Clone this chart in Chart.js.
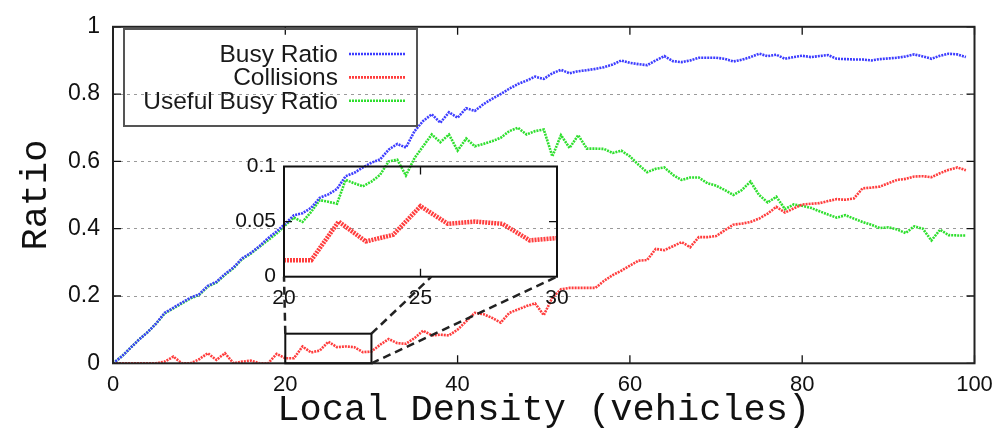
<!DOCTYPE html>
<html><head><meta charset="utf-8">
<script src="https://cdn.jsdelivr.net/npm/chart.js@4.4.0/dist/chart.umd.min.js"></script>
<style>
html,body{margin:0;padding:0;background:#fff;overflow:hidden}
#wrap{position:relative;width:1007px;height:434px}
canvas{position:absolute;left:0;top:0}
</style></head><body>
<div id="wrap"><canvas id="main" width="1007" height="434"></canvas><canvas id="inset" width="1007" height="434"></canvas></div>
<script>
// ---- data ----
const density = [0,1,2,3,4,5,6,7,8,9,10,11,12,13,14,15,16,17,18,19,20,21,22,23,24,25,26,27,28,29,30,31,32,33,34,35,36,37,38,39,40,41,42,43,44,45,46,47,48,49,50,51,52,53,54,55,56,57,58,59,60,61,62,63,64,65,66,67,68,69,70,71,72,73,74,75,76,77,78,79,80,81,82,83,84,85,86,87,88,89,90,91,92,93,94,95,96,97,98,99];
const busyRatio = [0.000,0.020,0.045,0.070,0.092,0.118,0.150,0.165,0.180,0.195,
  0.205,0.230,0.242,0.265,0.285,0.312,0.328,0.348,0.372,0.392,
  0.415,0.440,0.446,0.462,0.492,0.502,0.518,0.556,0.566,0.582,
  0.596,0.606,0.635,0.652,0.641,0.690,0.720,0.740,0.715,0.746,
  0.730,0.758,0.750,0.770,0.786,0.800,0.816,0.830,0.840,0.852,
  0.845,0.862,0.872,0.862,0.868,0.871,0.875,0.880,0.888,0.900,
  0.893,0.889,0.886,0.900,0.913,0.898,0.895,0.900,0.908,0.908,
  0.908,0.905,0.897,0.902,0.910,0.920,0.913,0.917,0.905,0.910,
  0.914,0.910,0.913,0.916,0.905,0.904,0.903,0.903,0.900,0.904,
  0.906,0.908,0.912,0.918,0.912,0.905,0.914,0.920,0.918,0.910];
const collisions = [0.000,0.000,0.000,0.000,0.000,0.000,0.005,0.020,0.000,0.000,
  0.012,0.030,0.010,0.030,0.000,0.005,0.008,0.000,0.000,0.028,
  0.015,0.015,0.050,0.032,0.038,0.064,0.048,0.050,0.048,0.033,
  0.035,0.055,0.072,0.060,0.058,0.075,0.097,0.083,0.085,0.083,
  0.100,0.125,0.150,0.146,0.135,0.121,0.150,0.160,0.170,0.178,
  0.143,0.195,0.220,0.224,0.224,0.224,0.224,0.245,0.262,0.275,
  0.290,0.305,0.307,0.340,0.336,0.348,0.360,0.345,0.375,0.375,
  0.378,0.395,0.412,0.415,0.420,0.430,0.445,0.465,0.448,0.460,
  0.472,0.474,0.476,0.482,0.488,0.486,0.490,0.520,0.522,0.525,
  0.535,0.545,0.548,0.555,0.556,0.553,0.565,0.575,0.582,0.574];
const usefulBusyRatio = [0.000,0.020,0.045,0.070,0.092,0.118,0.148,0.163,0.178,0.193,
  0.203,0.228,0.240,0.263,0.283,0.310,0.326,0.346,0.366,0.386,
  0.410,0.433,0.420,0.450,0.485,0.480,0.474,0.545,0.535,0.526,
  0.540,0.560,0.600,0.605,0.558,0.610,0.645,0.680,0.657,0.680,
  0.632,0.668,0.645,0.652,0.660,0.670,0.690,0.700,0.680,0.690,
  0.695,0.615,0.678,0.640,0.678,0.638,0.638,0.637,0.625,0.632,
  0.615,0.590,0.568,0.578,0.582,0.560,0.545,0.552,0.552,0.535,
  0.528,0.515,0.500,0.515,0.540,0.500,0.478,0.495,0.458,0.472,
  0.468,0.462,0.452,0.442,0.433,0.440,0.430,0.420,0.412,0.402,
  0.404,0.398,0.387,0.407,0.400,0.365,0.397,0.381,0.380,0.380];
const seriesLabels = ['Busy Ratio', 'Collisions', 'Useful Busy Ratio'];
const xTickLabels = ['0', '20', '40', '60', '80', '100'];
const yTickLabels = ['0', '0.2', '0.4', '0.6', '0.8', '1'];
const insetXTickLabels = ['20', '25', '30'];
const insetYTickLabels = ['0', '0.05', '0.1'];
const zoomX = [20, 30];
const zoomY = [0, 0.088];

// ---- layout / style constants ----
const W = 1007, H = 434;
const PLOT = {left: 113, top: 21, right: 974.5, bottom: 363.3};
const INSET = {left: 284, top: 166.5, right: 557, bottom: 276.7};
const LEGEND = {left: 124, top: 29, right: 417, bottom: 126, textRight: 338, line0: 349, line1: 405, row0: 54, rowStep: 23.4};
const COLORS = ['#3d3dff', '#ff3d3d', '#2fdf2f'];
const SANS = "'Liberation Sans', Arial, sans-serif";
const MONO = "'Liberation Mono', 'Courier New', monospace";

function pts(xs, ys) { return xs.map((x, i) => ({x: x, y: ys[i]})); }
function tickSetter(labels) { return s => { s.ticks = labels.map(t => ({value: parseFloat(t)})); }; }
function tickLabel(labels) { return v => { const m = labels.find(t => Math.abs(parseFloat(t) - v) < 1e-9); return m === undefined ? '' : m; }; }

const seriesValues = [busyRatio, collisions, usefulBusyRatio];
const datasets = seriesLabels.map((lab, i) => ({
  label: lab,
  data: pts(density, seriesValues[i]),
  borderColor: COLORS[i],
  borderWidth: 2.6,
  borderDash: [2, 1],
  pointRadius: 0,
  fill: false,
  tension: 0
}));

function drawInwardTicks(ctx, area, xs, ys, xScale, yScale, len) {
  ctx.save();
  ctx.strokeStyle = '#111';
  ctx.lineWidth = 1.3;
  ctx.setLineDash([]);
  ctx.beginPath();
  xs.forEach(v => {
    const px = xScale.getPixelForValue(v);
    ctx.moveTo(px, area.bottom); ctx.lineTo(px, area.bottom - len);
    ctx.moveTo(px, area.top); ctx.lineTo(px, area.top + len);
  });
  ys.forEach(v => {
    const py = yScale.getPixelForValue(v);
    ctx.moveTo(area.left, py); ctx.lineTo(area.left + len, py);
    ctx.moveTo(area.right, py); ctx.lineTo(area.right - len, py);
  });
  ctx.stroke();
  ctx.restore();
}

const mainDecor = {
  id: 'mainDecor',
  afterDraw(chart) {
    const ctx = chart.ctx, a = chart.chartArea;
    drawInwardTicks(ctx, a, xTickLabels.map(parseFloat), yTickLabels.map(parseFloat), chart.scales.x, chart.scales.y, 8);
    ctx.save();
    ctx.strokeStyle = '#222';
    ctx.lineWidth = 2;
    ctx.strokeRect(a.left, a.top, a.right - a.left, a.bottom - a.top);
    // legend
    ctx.strokeStyle = '#555';
    ctx.lineWidth = 2;
    ctx.strokeRect(LEGEND.left, LEGEND.top, LEGEND.right - LEGEND.left, LEGEND.bottom - LEGEND.top);
    ctx.font = '24.5px ' + SANS;
    ctx.textAlign = 'right';
    ctx.textBaseline = 'middle';
    chart.data.datasets.forEach((ds, i) => {
      const y = LEGEND.row0 + i * LEGEND.rowStep;
      ctx.fillStyle = '#1a1a1a';
      ctx.fillText(ds.label, LEGEND.textRight, y + 1);
      ctx.strokeStyle = ds.borderColor;
      ctx.lineWidth = ds.borderWidth;
      ctx.setLineDash(ds.borderDash);
      ctx.beginPath(); ctx.moveTo(LEGEND.line0, y); ctx.lineTo(LEGEND.line1, y); ctx.stroke();
    });
    ctx.restore();
  }
};

const mainChart = new Chart(document.getElementById('main'), {
  type: 'line',
  data: {datasets: datasets},
  plugins: [mainDecor],
  options: {
    responsive: false, animation: false, devicePixelRatio: 1,
    layout: {padding: {left: 0, top: PLOT.top, right: W - PLOT.right, bottom: 0}},
    plugins: {legend: {display: false}, tooltip: {enabled: false}},
    scales: {
      x: {
        type: 'linear', min: 0, max: 100,
        afterBuildTicks: tickSetter(xTickLabels),
        afterFit: s => { s.height = H - PLOT.bottom; },
        grid: {display: false, drawTicks: false},
        border: {display: false},
        ticks: {padding: 8, color: '#111', font: {family: SANS, size: 22}, maxRotation: 0, autoSkip: false, callback: tickLabel(xTickLabels)},
        title: {display: true, text: 'Local Density (vehicles)', color: '#111', font: {family: MONO, size: 37, lineHeight: 1.2}, padding: {top: 0, bottom: 2}}
      },
      y: {
        type: 'linear', min: 0, max: 1,
        afterBuildTicks: tickSetter(yTickLabels),
        afterFit: s => { s.width = PLOT.left; },
        grid: {drawTicks: false, lineWidth: 1, color: c => (c.tick && c.tick.value > 0.001 && c.tick.value < 0.999) ? '#9a9a9a' : 'rgba(0,0,0,0)'},
        border: {display: false, dash: [3, 4]},
        ticks: {padding: 13, color: '#111', font: {family: SANS, size: 23}, autoSkip: false, callback: tickLabel(yTickLabels)},
        title: {display: true, text: 'Ratio', color: '#111', font: {family: MONO, size: 37, lineHeight: 1.2}, padding: {top: 14}}
      }
    }
  }
});

const insetDecor = {
  id: 'insetDecor',
  afterDraw(chart) {
    const ctx = chart.ctx, a = chart.chartArea;
    drawInwardTicks(ctx, a, [parseFloat(insetXTickLabels[1])], [parseFloat(insetYTickLabels[1])], chart.scales.x, chart.scales.y, 8);
    ctx.save();
    ctx.strokeStyle = '#111';
    ctx.lineWidth = 2;
    ctx.strokeRect(a.left, a.top, a.right - a.left, a.bottom - a.top);
    // zoom box on main plot
    const mx = mainChart.scales.x, my = mainChart.scales.y;
    const bx0 = mx.getPixelForValue(zoomX[0]), bx1 = mx.getPixelForValue(zoomX[1]);
    const by0 = my.getPixelForValue(zoomY[0]), by1 = my.getPixelForValue(zoomY[1]);
    ctx.strokeRect(bx0, by1, bx1 - bx0, by0 - by1);
    // connectors
    const ix = chart.scales.x, iy = chart.scales.y;
    ctx.strokeStyle = '#222';
    ctx.lineWidth = 2.5;
    ctx.setLineDash([8, 5]);
    const segs = [
      [bx0, by1, ix.getPixelForValue(zoomX[0]), iy.getPixelForValue(0)],
      [bx1, by1, ix.getPixelForValue(25.4), iy.getPixelForValue(0)],
      [bx1, by0, ix.getPixelForValue(zoomX[1]), iy.getPixelForValue(0)]
    ];
    segs.forEach(s => { ctx.beginPath(); ctx.moveTo(s[0], s[1]); ctx.lineTo(s[2], s[3]); ctx.stroke(); });
    ctx.restore();
  }
};

const insetData = density.map((x, i) => ({x: x, y: collisions[i]})).filter(p => p.x >= zoomX[0] && p.x <= zoomX[1]);

new Chart(document.getElementById('inset'), {
  type: 'line',
  data: {datasets: [{label: seriesLabels[1], data: insetData, borderColor: COLORS[1], borderWidth: 4.5, borderDash: [2, 1], pointRadius: 0, tension: 0}]},
  plugins: [insetDecor],
  options: {
    responsive: false, animation: false, devicePixelRatio: 1,
    layout: {padding: {left: 0, top: INSET.top, right: W - INSET.right, bottom: 0}},
    plugins: {legend: {display: false}, tooltip: {enabled: false}},
    scales: {
      x: {
        type: 'linear', min: 20, max: 30,
        afterBuildTicks: tickSetter(insetXTickLabels),
        afterFit: s => { s.height = H - INSET.bottom; },
        grid: {display: false, drawTicks: false},
        border: {display: false},
        ticks: {padding: 9, color: '#111', font: {family: SANS, size: 21}, maxRotation: 0, autoSkip: false, callback: tickLabel(insetXTickLabels)}
      },
      y: {
        type: 'linear', min: 0, max: 0.1,
        afterBuildTicks: tickSetter(insetYTickLabels),
        afterFit: s => { s.width = INSET.left; },
        grid: {display: false, drawTicks: false},
        border: {display: false},
        ticks: {padding: 8, color: '#111', font: {family: SANS, size: 21}, autoSkip: false, callback: tickLabel(insetYTickLabels)}
      }
    }
  }
});
</script>
</body></html>
